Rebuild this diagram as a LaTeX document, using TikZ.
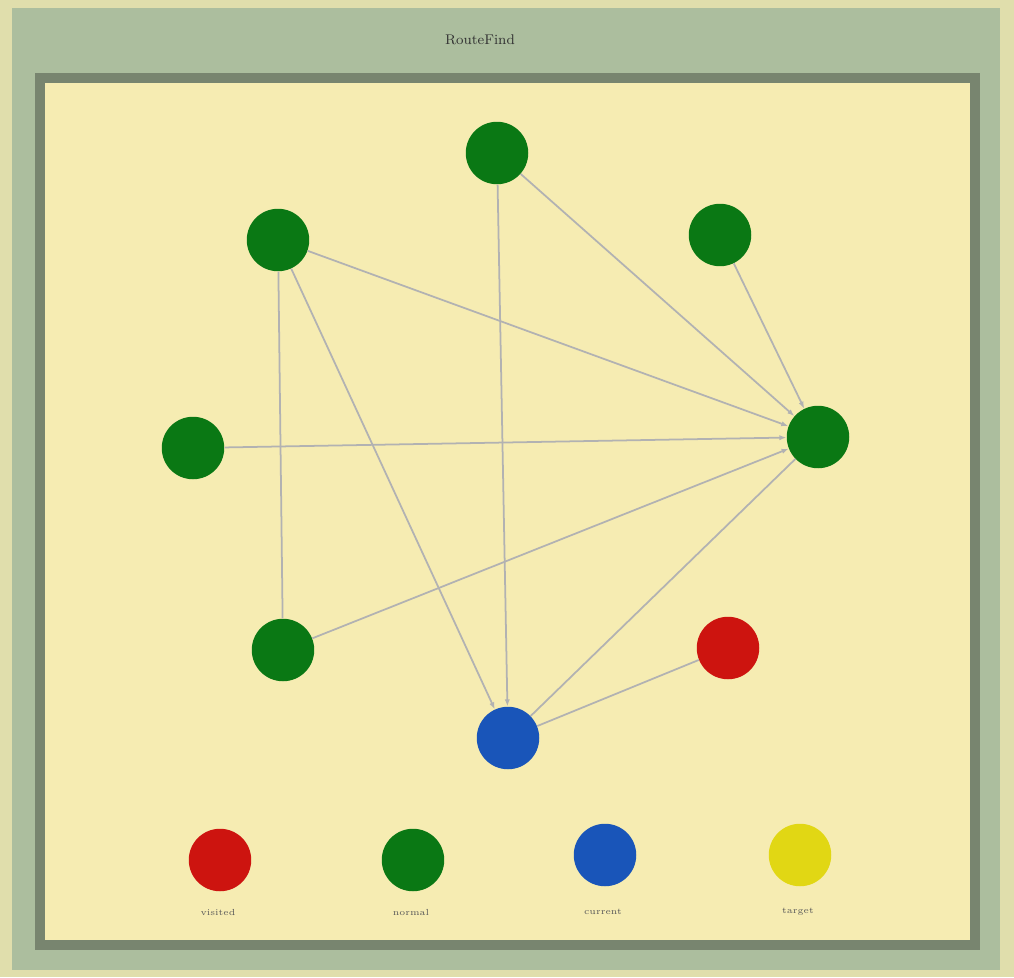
\documentclass[tikz,border=0pt]{standalone}
\usepackage{tikz}
\usetikzlibrary{arrows.meta}

\definecolor{framegray}{RGB}{172,190,158}
\definecolor{panelbg}{RGB}{246,236,178}
\definecolor{nodegreen}{RGB}{10,120,20}
\definecolor{nodered}{RGB}{205,20,15}
\definecolor{nodeblue}{RGB}{25,85,185}
\definecolor{nodeyellow}{RGB}{225,215,20}

\begin{document}
\begin{tikzpicture}[x=0.02cm, y=-0.02cm, >={Latex[length=1.4mm]},
	vertex/.style={circle, minimum size=1.25cm, inner sep=0pt},
	link/.style={gray!60, line width=1pt},
	legendtext/.style={font=\tiny, gray!70!black}]
	\useasboundingbox (0,0) rectangle (1014,977);
	\fill[panelbg!70!framegray] (0,0) rectangle (1014,977);
	\fill[framegray] (12,8) rectangle (1000,970);
	\node[font=\footnotesize, black!80] (title) at (480,40) {RouteFind};
	\draw[framegray!70!black, line width=6pt, fill=panelbg] (40,78) rectangle (975,945);
	% graph
	\node[vertex, fill=nodegreen] (top) at (497,153) {};
	\node[vertex, fill=nodegreen] (upleft) at (278,240) {};
	\node[vertex, fill=nodegreen] (upright) at (720,235) {};
	\node[vertex, fill=nodegreen] (left) at (193,448) {};
	\node[vertex, fill=nodegreen] (right) at (818,437) {};
	\node[vertex, fill=nodegreen] (lowleft) at (283,650) {};
	\node[vertex, fill=nodered] (lowright) at (728,648) {};
	\node[vertex, fill=nodeblue] (bottom) at (508,738) {};
	\draw[link, ->] (top) -- (bottom);
	\draw[link, ->] (top) -- (right);
	\draw[link, ->] (upleft) -- (right);
	\draw[link] (upleft) -- (lowleft);
	\draw[link, ->] (upleft) -- (bottom);
	\draw[link, ->] (upright) -- (right);
	\draw[link, ->] (left) -- (right);
	\draw[link, ->] (lowleft) -- (right);
	\draw[link] (bottom) -- (right);
	\draw[link] (bottom) -- (lowright);
	% legend
	\node[vertex, fill=nodered] (keyred) at (220,860) {};
	\node[vertex, fill=nodegreen] (keygreen) at (413,860) {};
	\node[vertex, fill=nodeblue] (keyblue) at (605,855) {};
	\node[vertex, fill=nodeyellow] (keyyellow) at (800,855) {};
	\node[legendtext] (lblred) at (218,912) {visited};
	\node[legendtext] (lblgreen) at (411,912) {normal};
	\node[legendtext] (lblblue) at (603,912) {current};
	\node[legendtext] (lblyellow) at (798,912) {target};
\end{tikzpicture}
\end{document}
